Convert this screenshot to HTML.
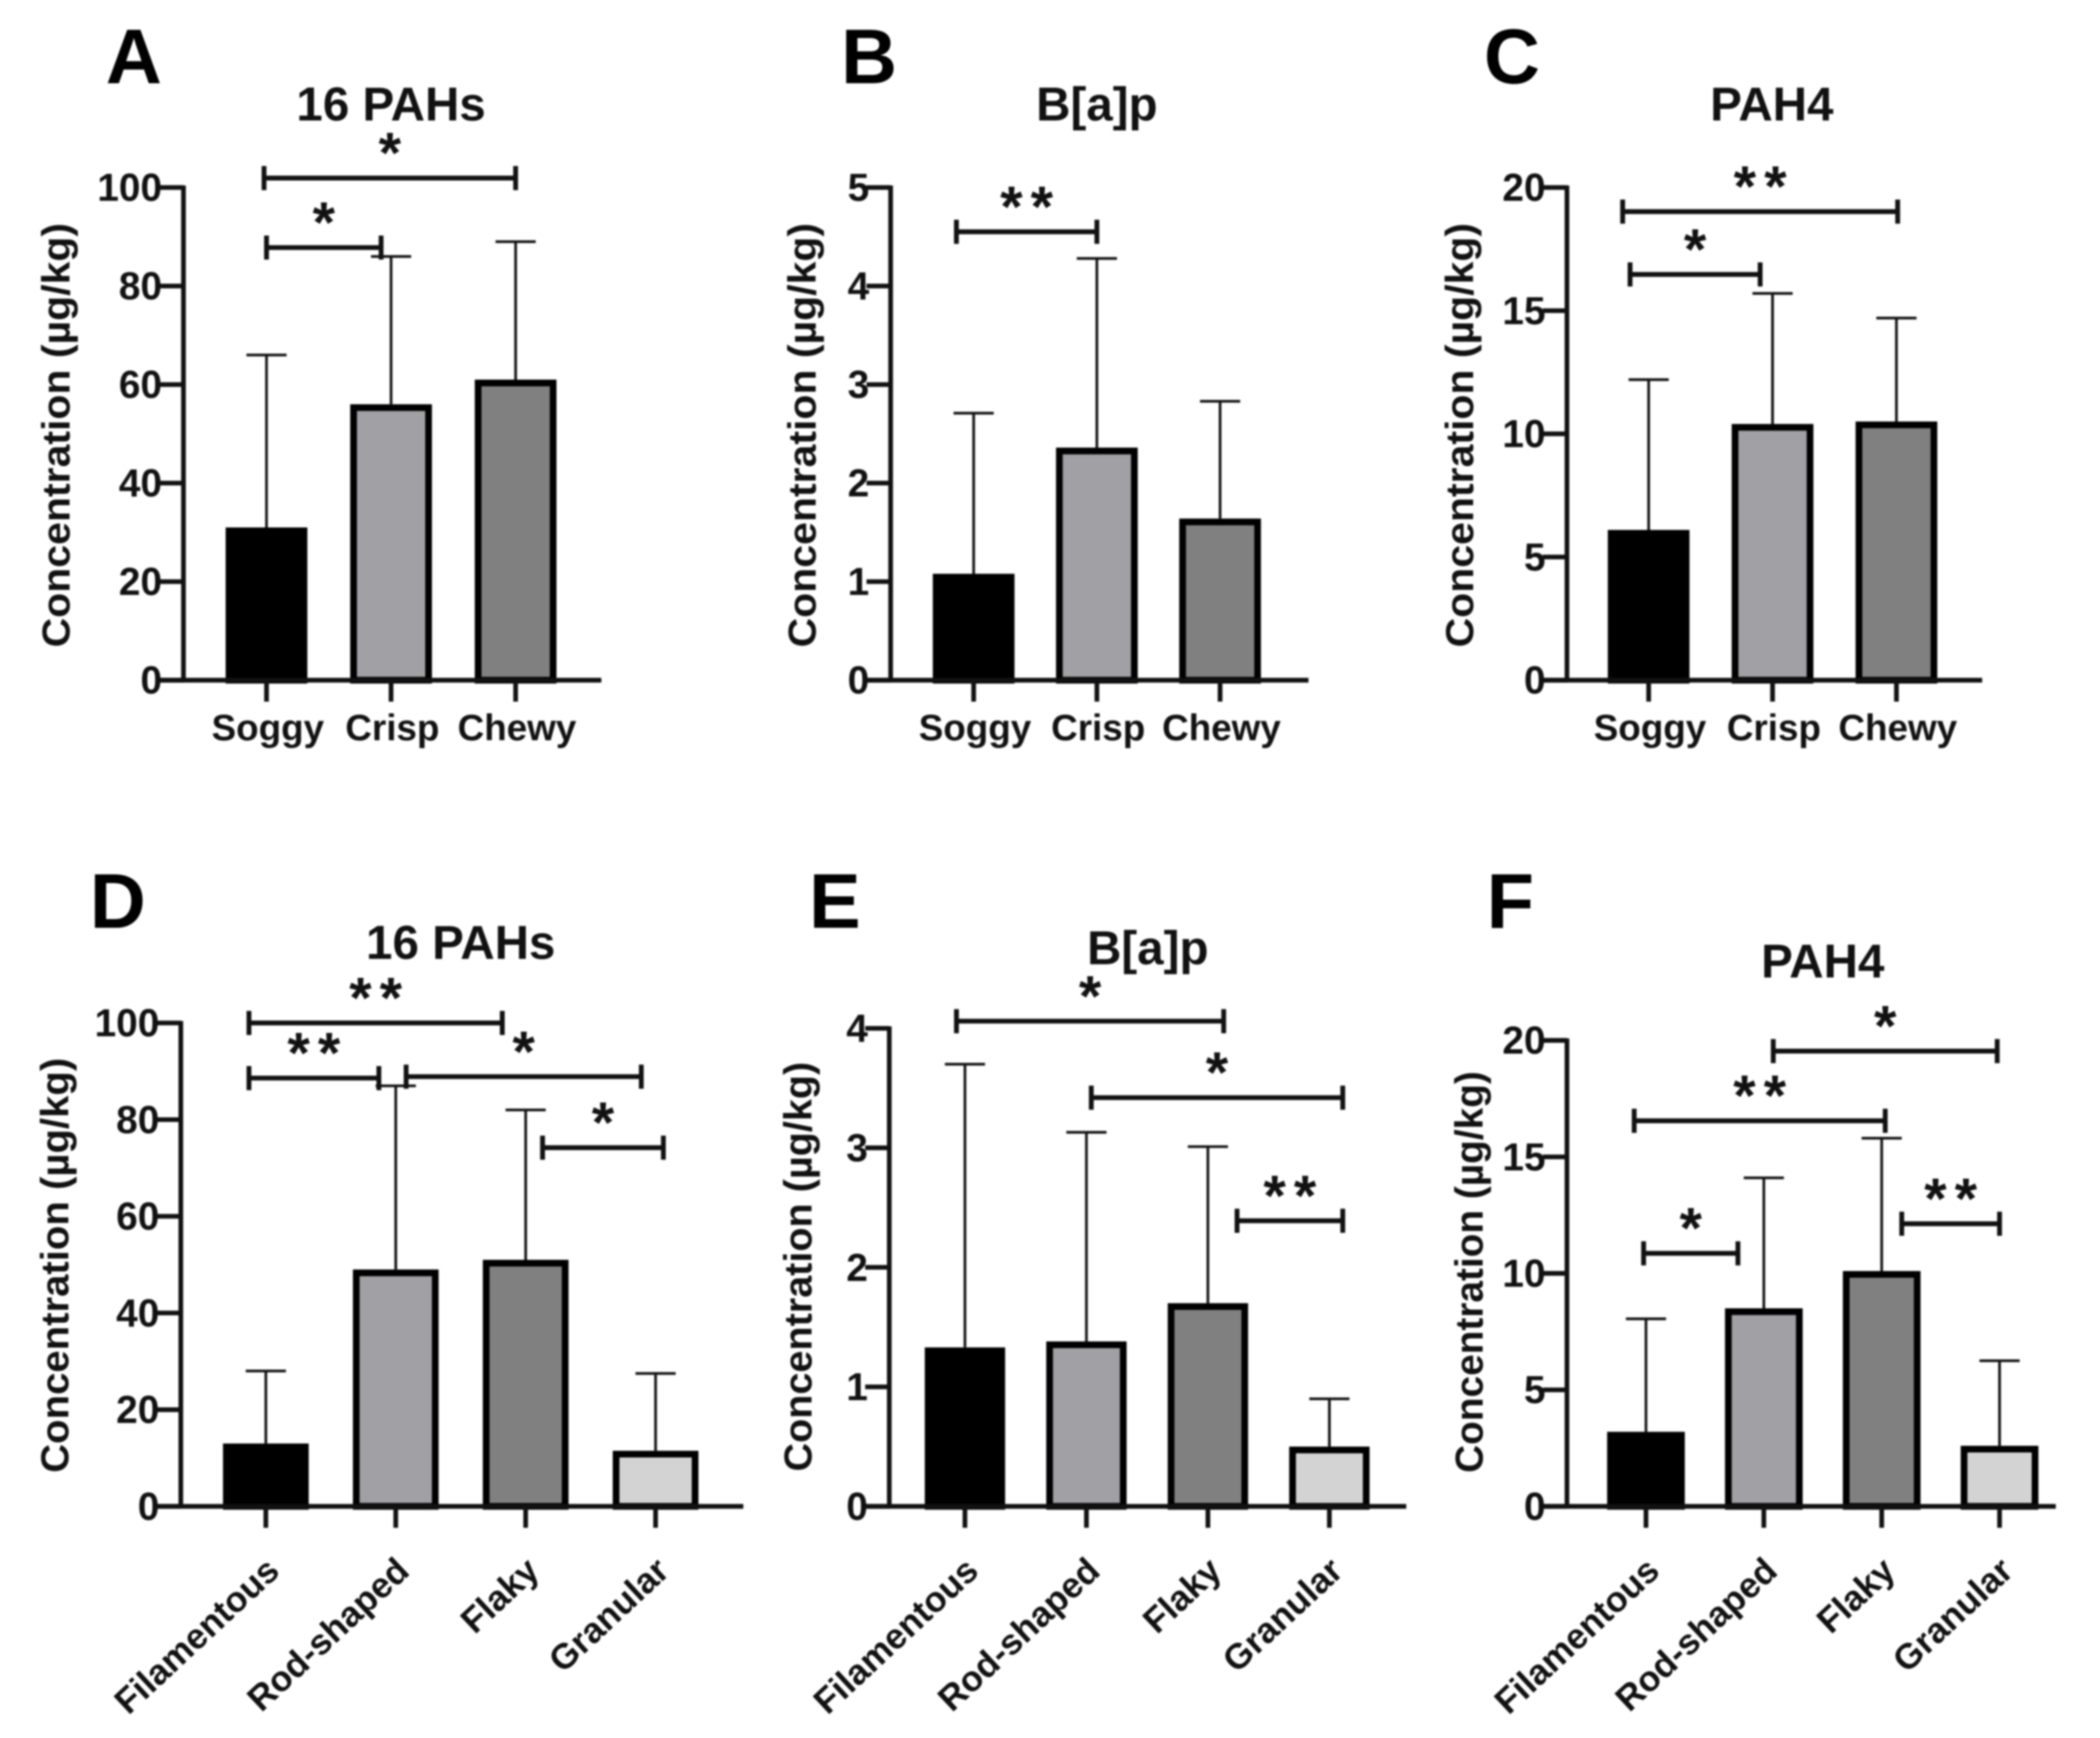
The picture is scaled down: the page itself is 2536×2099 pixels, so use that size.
<!DOCTYPE html>
<html lang="en">
<head>
<meta charset="utf-8">
<title>PAH concentration by texture and shape</title>
<style>
html,body{margin:0;padding:0;background:#fff;width:2536px;height:2099px;overflow:hidden}
svg{display:block;filter:blur(1px)}
text{font-family:"Liberation Sans",Arial,sans-serif;font-weight:700;fill:#111}
</style>
</head>
<body>
<svg id="figure" xmlns="http://www.w3.org/2000/svg" width="2536" height="2099" viewBox="0 0 1568 1298" preserveAspectRatio="none"></svg>
<script>
// Category labels
const textureCategories = ['Soggy', 'Crisp', 'Chewy'];
const shapeCategories = ['Filamentous', 'Rod-shaped', 'Flaky', 'Granular'];

// Series values: bar means
const meansA = [31, 56, 61];
const meansB = [1.08, 2.36, 1.64];
const meansC = [6.1, 10.4, 10.5];
const meansD = [13, 49, 51, 11.5];
const meansE = [1.33, 1.38, 1.7, 0.5];
const meansF = [3.2, 8.5, 10.1, 2.6];

// Series values: top of each error bar
const errorTopsA = [66, 86, 89];
const errorTopsB = [2.71, 4.28, 2.83];
const errorTopsC = [12.2, 15.7, 14.7];
const errorTopsD = [28, 87, 82, 27.5];
const errorTopsE = [3.7, 3.13, 3.01, 0.9];
const errorTopsF = [8.05, 14.1, 15.8, 6.25];

// Y axis tick labels
const ticksA = [0, 20, 40, 60, 80, 100];
const ticksB = [0, 1, 2, 3, 4, 5];
const ticksC = [0, 5, 10, 15, 20];
const ticksD = [0, 20, 40, 60, 80, 100];
const ticksE = [0, 1, 2, 3, 4];
const ticksF = [0, 5, 10, 15, 20];

// Significance brackets: from / to in category units, level in axis units
const bracketsA = [
  { from: -0.02, to: 2, level: 101.9, label: '*' },
  { from: 0, to: 0.92, level: 87.8, label: '*' }
];
const bracketsB = [
  { from: -0.14, to: 1, level: 4.55, label: '**' }
];
const bracketsC = [
  { from: -0.21, to: 2.01, level: 19.02, label: '**' },
  { from: -0.15, to: 0.9, level: 16.47, label: '*' }
];
const bracketsD = [
  { from: -0.13, to: 1.82, level: 100, label: '**' },
  { from: -0.13, to: 0.87, level: 88.6, label: '**' },
  { from: 1.08, to: 2.89, level: 88.9, label: '*' },
  { from: 2.13, to: 3.06, level: 74.2, label: '*' }
];
const bracketsE = [
  { from: -0.07, to: 2.13, level: 4.06, label: '*' },
  { from: 1.04, to: 3.11, level: 3.42, label: '*' },
  { from: 2.24, to: 3.11, level: 2.39, label: '**' }
];
const bracketsF = [
  { from: 1.08, to: 2.98, level: 19.54, label: '*' },
  { from: -0.1, to: 2.03, level: 16.55, label: '**' },
  { from: -0.02, to: 0.78, level: 10.86, label: '*' },
  { from: 2.17, to: 3, level: 12.13, label: '**' }
];

const barFills = ['#000000', '#a0a0a5', '#808080', '#d3d3d3'];
const NS = 'http://www.w3.org/2000/svg';
const figure = document.getElementById('figure');

function el(tag, attrs, parent, content) {
  const node = document.createElementNS(NS, tag);
  for (const key in attrs) node.setAttribute(key, attrs[key]);
  if (content !== undefined) node.textContent = content;
  parent.appendChild(node);
  return node;
}

function slug(text) {
  return String(text).toLowerCase().replace(/[^a-z0-9]+/g, '-');
}

function drawPanel(p) {
  const group = el('g', {}, figure);
  
  

  const yScale = v => p.y0 - (v / p.max) * (p.y0 - p.yTop);
  const xScale = i => p.c0 + i * p.step;

  const letter = el('text', { x: p.letterX, y: p.letterY, 'font-size': 58, style: 'fill:#000' }, group, p.letter);
  
  

  const title = el('text', { x: p.titleX, y: p.titleY, 'font-size': 35.5, 'text-anchor': 'middle' }, group, p.title);
  
  

  const yTitle = el('text', {
    transform: 'translate(' + p.yTitleX + ' ' + p.yTitleY + ') rotate(-90)',
    'font-size': 29, 'text-anchor': 'middle', textLength: p.yTitleLen, lengthAdjust: 'spacingAndGlyphs'
  }, group, 'Concentration (µg/kg)');
  
  

  // error bars (drawn beneath the bars)
  p.errorTops.forEach((top, i) => {
    const cx = xScale(i);
    const stem = el('line', { x1: cx, x2: cx, y1: yScale(p.means[i]), y2: yScale(top), stroke: '#111', 'stroke-width': 2 }, group);
    
    
    const cap = el('line', { x1: cx - 15, x2: cx + 15, y1: yScale(top), y2: yScale(top), stroke: '#111', 'stroke-width': 2 }, group);
    
    
  });

  // bars
  p.means.forEach((value, i) => {
    const top = yScale(value);
    const bar = el('rect', {
      x: xScale(i) - p.barWidth / 2 + 2.5, y: top + 2.5,
      width: p.barWidth - 5, height: Math.max(0, p.y0 - top - 2.5),
      fill: barFills[i], stroke: '#000', 'stroke-width': 5
    }, group);
    
    
  });

  // y axis
  const yAxis = el('line', { x1: p.axisX, x2: p.axisX, y1: p.yTop - 1.5, y2: p.y0 + 1.5, stroke: '#111', 'stroke-width': 3.5 }, group);
  
  

  p.ticks.forEach(t => {
    const ty = yScale(t);
    const tick = el('line', { x1: p.axisX - 18, x2: p.axisX, y1: ty, y2: ty, stroke: '#111', 'stroke-width': 3.5 }, group);
    
    
    const label = el('text', { x: p.axisX - 16, y: ty + 10, 'font-size': 29, 'text-anchor': 'end' }, group, t);
    
    
  });

  // x axis
  const xAxis = el('line', { x1: p.axisX - 18, x2: p.xEnd, y1: p.y0, y2: p.y0, stroke: '#111', 'stroke-width': 3.5 }, group);
  
  

  p.categories.forEach((cat, i) => {
    const cx = xScale(i);
    const tick = el('line', { x1: cx, x2: cx, y1: p.y0, y2: p.y0 + 16, stroke: '#111', 'stroke-width': 3.5 }, group);
    
    
    const attrs = p.rotated
      ? { transform: 'translate(' + (cx + 11.5) + ' ' + (p.y0 + 50) + ') rotate(-43)', 'font-size': 26.5, 'text-anchor': 'end' }
      : { x: cx + 1, y: p.y0 + 45, 'font-size': 27.5, 'text-anchor': 'middle' };
    const label = el('text', attrs, group, cat);
    
    
  });

  // significance brackets
  p.brackets.forEach((b, n) => {
    const x1 = xScale(b.from);
    const x2 = xScale(b.to);
    const by = yScale(b.level);
    const line = el('path', {
      d: 'M' + x1 + ' ' + (by - 9) + 'V' + (by + 9) + 'M' + x1 + ' ' + by + 'H' + x2 + 'M' + x2 + ' ' + (by - 9) + 'V' + (by + 9),
      fill: 'none', stroke: '#111', 'stroke-width': 3.6
    }, group);
    
    
    const star = el('text', {
      x: (x1 + x2) / 2 + (b.label.length > 1 ? 3 : 0), y: by - 4, 'font-size': 43, 'text-anchor': 'middle',
      'letter-spacing': b.label.length > 1 ? 6 : 0
    }, group, b.label);
    
    
  });
}

drawPanel({ letter: 'A', letterX: 79, letterY: 62, title: '16 PAHs', titleX: 292, titleY: 90,
  yTitleX: 52, yTitleY: 325, yTitleLen: 317, axisX: 137, xEnd: 449, yTop: 140, y0: 508, max: 100,
  c0: 199, step: 93, barWidth: 61, categories: textureCategories, means: meansA, errorTops: errorTopsA, ticks: ticksA, brackets: bracketsA, rotated: false });

drawPanel({ letter: 'B', letterX: 628, letterY: 62, title: 'B[a]p', titleX: 819, titleY: 90,
  yTitleX: 609, yTitleY: 325, yTitleLen: 317, axisX: 665, xEnd: 977, yTop: 140, y0: 508, max: 5,
  c0: 727, step: 92, barWidth: 61, categories: textureCategories, means: meansB, errorTops: errorTopsB, ticks: ticksB, brackets: bracketsB, rotated: false });

drawPanel({ letter: 'C', letterX: 1108, letterY: 62, title: 'PAH4', titleX: 1323, titleY: 90,
  yTitleX: 1100, yTitleY: 325, yTitleLen: 317, axisX: 1170, xEnd: 1480, yTop: 140, y0: 508, max: 20,
  c0: 1231, step: 92.5, barWidth: 61, categories: textureCategories, means: meansC, errorTops: errorTopsC, ticks: ticksC, brackets: bracketsC, rotated: false });

drawPanel({ letter: 'D', letterX: 67, letterY: 693, title: '16 PAHs', titleX: 344, titleY: 716,
  yTitleX: 51, yTitleY: 945, yTitleLen: 310, axisX: 135, xEnd: 555, yTop: 764, y0: 1125, max: 100,
  c0: 198.5, step: 97, barWidth: 64, categories: shapeCategories, means: meansD, errorTops: errorTopsD, ticks: ticksD, brackets: bracketsD, rotated: true });

drawPanel({ letter: 'E', letterX: 604, letterY: 693, title: 'B[a]p', titleX: 857, titleY: 720,
  yTitleX: 606, yTitleY: 946, yTitleLen: 306, axisX: 664, xEnd: 1050, yTop: 768, y0: 1125, max: 4,
  c0: 720.5, step: 90.7, barWidth: 60, categories: shapeCategories, means: meansE, errorTops: errorTopsE, ticks: ticksE, brackets: bracketsE, rotated: true });

drawPanel({ letter: 'F', letterX: 1110, letterY: 693, title: 'PAH4', titleX: 1361, titleY: 730,
  yTitleX: 1107, yTitleY: 950, yTitleLen: 300, axisX: 1170, xEnd: 1535, yTop: 777, y0: 1125, max: 20,
  c0: 1229, step: 88, barWidth: 58, categories: shapeCategories, means: meansF, errorTops: errorTopsF, ticks: ticksF, brackets: bracketsF, rotated: true });
</script>
</body>
</html>
